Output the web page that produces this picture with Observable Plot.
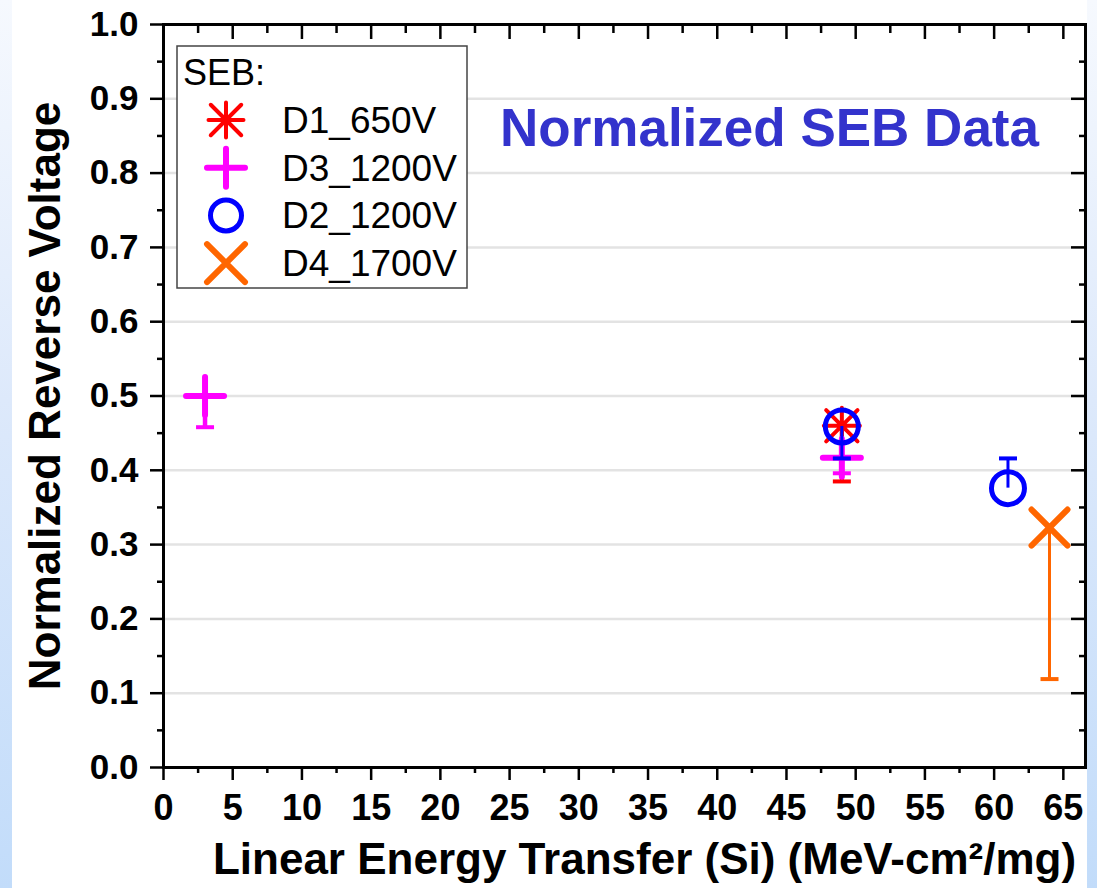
<!DOCTYPE html>
<html>
<head>
<meta charset="utf-8">
<script src="https://cdn.jsdelivr.net/npm/d3@7"></script>
<script src="https://cdn.jsdelivr.net/npm/@observablehq/plot@0.6"></script>
<style>
html,body{margin:0;padding:0;}
body{width:1097px;height:888px;overflow:hidden;background:linear-gradient(to bottom,#f6f9fe 0%,#dde9fb 45%,#c2dcfa 100%);font-family:"Liberation Sans",Arial,sans-serif;}
#wrap{position:relative;width:1097px;height:888px;}
#white{position:absolute;left:12px;top:0;width:1075px;height:888px;background:#fff;}
#chart{position:absolute;left:0;top:0;}
#overlay{position:absolute;left:0;top:0;pointer-events:none;}
#chart svg g[aria-label$="tick label"] text{font-weight:bold;}
</style>
</head>
<body>
<div id="wrap">
  <div id="white"></div>
  <div id="chart"></div>
  <svg id="overlay" width="1097" height="888"></svg>
</div>
<script>
// ---------- data ----------
const seriesNames = ["D1_650V", "D3_1200V", "D2_1200V", "D4_1700V"];
const seriesColors = ["#ff0000", "#ff00ff", "#0000ff", "#ff6600"];
const legendTitle = "SEB:";
const chartTitle = "Normalized SEB Data";
const xTitle = "Linear Energy Transfer (Si) (MeV-cm²/mg)";
const yTitle = "Normalized Reverse Voltage";

const pointSeries  = ["D1_650V", "D3_1200V", "D3_1200V", "D2_1200V", "D2_1200V", "D4_1700V"];
const pointLET     = [49, 3, 49, 49, 61, 64];
const pointVoltage = [0.46, 0.50, 0.417, 0.459, 0.376, 0.323];
const errLow       = [0.385, 0.458, 0.396, 0.416, 0.376, 0.119];
const errHigh      = [0.46, 0.50, 0.417, 0.459, 0.416, 0.323];

const xTicks = [0, 5, 10, 15, 20, 25, 30, 35, 40, 45, 50, 55, 60, 65];
const xMinorTicks = [2.5, 7.5, 12.5, 17.5, 22.5, 27.5, 32.5, 37.5, 42.5, 47.5, 52.5, 57.5, 62.5];
const yTicks = [0.0, 0.1, 0.2, 0.3, 0.4, 0.5, 0.6, 0.7, 0.8, 0.9, 1.0];
const yMinorTicks = [0.05, 0.15, 0.25, 0.35, 0.45, 0.55, 0.65, 0.75, 0.85, 0.95];
const xDomain = [0, 66.6];
const yDomain = [0, 1];

// ---------- symbols (style) ----------
const rad = size => Math.sqrt(size / Math.PI);
const symAsterisk = {draw(c, s){const r = rad(s), d = r * 0.87;
  c.moveTo(0,-r); c.lineTo(0,r); c.moveTo(-r,0); c.lineTo(r,0);
  c.moveTo(-d,-d); c.lineTo(d,d); c.moveTo(-d,d); c.lineTo(d,-d);}};
const symPlus = {draw(c, s){const r = rad(s); c.moveTo(-r,0); c.lineTo(r,0); c.moveTo(0,-r); c.lineTo(0,r);}};
const symCircle = {draw(c, s){const r = rad(s); c.moveTo(r,0); c.arc(0,0,r,0,2*Math.PI);}};
const symTimes = {draw(c, s){const r = rad(s); c.moveTo(-r,-r); c.lineTo(r,r); c.moveTo(-r,r); c.lineTo(r,-r);}};
const symCap = {draw(c, s){const r = rad(s); c.moveTo(-r,0); c.lineTo(r,0);}};
const seriesSymbols = [symAsterisk, symPlus, symCircle, symTimes];
const symbolR = [18, 19, 16.5, 18];
const symbolW = [4, 6, 5, 6];
const errW = [4, 4.5, 3, 3];

const points = pointSeries.map((s, i) => ({
  series: s, let: pointLET[i], v: pointVoltage[i], lo: errLow[i], hi: errHigh[i]
}));

const marks = [
  Plot.gridY(yTicks.slice(1, -1), {stroke: "#e3e3e3", strokeOpacity: 1, strokeWidth: 2.5}),
  Plot.axisX(xTicks, {anchor: "bottom", tickSize: 13, tickPadding: 14, fontSize: 36, fontWeight: "bold", strokeWidth: 2.5, label: null}),
  Plot.axisX(xMinorTicks, {anchor: "bottom", tickSize: 6, tickFormat: () => "", strokeWidth: 2.5, label: null}),
  Plot.axisX(xTicks, {anchor: "top", tickSize: -14, tickFormat: () => "", strokeWidth: 2.5, label: null}),
  Plot.axisX(xMinorTicks, {anchor: "top", tickSize: -8, tickFormat: () => "", strokeWidth: 2.5, label: null}),
  Plot.axisY(yTicks, {anchor: "left", tickSize: 13, tickPadding: 12, tickFormat: d => d.toFixed(1), fontSize: 35, fontWeight: "bold", strokeWidth: 2.5, label: null}),
  Plot.axisY(yMinorTicks, {anchor: "left", tickSize: 6, tickFormat: () => "", strokeWidth: 2.5, label: null}),
  Plot.axisY(yTicks, {anchor: "right", tickSize: -15, tickFormat: () => "", strokeWidth: 2.5, label: null}),
  Plot.axisY(yMinorTicks, {anchor: "right", tickSize: -7, tickFormat: () => "", strokeWidth: 2.5, label: null}),
  Plot.frame({stroke: "#000", strokeWidth: 3}),
  Plot.text([yTitle], {frameAnchor: "left", rotate: -90, dx: -118, textAnchor: "middle", fontSize: 44, fontWeight: "bold", fill: "#000"}),
  Plot.text([xTitle], {frameAnchor: "bottom", dy: 106, dx: 20, fontSize: 44, fontWeight: "bold", fill: "#000"})
];

seriesNames.forEach((name, k) => {
  const data = points.filter(d => d.series === name);
  const col = seriesColors[k];
  marks.push(
    Plot.ruleX(data, {x: "let", y1: "lo", y2: "hi", stroke: col, strokeWidth: errW[k]}),
    Plot.dot(data.filter(d => d.lo < d.v), {x: "let", y: "lo", symbol: symCap, r: 9, stroke: col, fill: "none", strokeWidth: 4}),
    Plot.dot(data.filter(d => d.hi > d.v), {x: "let", y: "hi", symbol: symCap, r: 9, stroke: col, fill: "none", strokeWidth: 4}),
    Plot.dot(data, {x: "let", y: "v", symbol: seriesSymbols[k], r: symbolR[k], stroke: col, fill: "none", strokeWidth: symbolW[k], strokeLinecap: "round"})
  );
});

const chart = Plot.plot({
  width: 1097, height: 888,
  marginLeft: 163, marginRight: 12, marginTop: 24, marginBottom: 121,
  x: {domain: xDomain, label: null},
  y: {domain: yDomain, label: null},
  style: {fontFamily: "'Liberation Sans', Arial, sans-serif", background: "transparent", color: "#000"},
  marks
});
document.getElementById("chart").appendChild(chart);

// ---------- overlay: legend + title ----------
const ov = d3.select("#overlay");
ov.append("text").attr("x", 500).attr("y", 146)
  .attr("font-family", "'Liberation Sans', Arial, sans-serif").attr("font-weight", "bold")
  .attr("font-size", 53).attr("fill", "#3333cc").text(chartTitle);

const lg = ov.append("g");
lg.append("rect").attr("x", 177).attr("y", 46).attr("width", 290).attr("height", 242)
  .attr("fill", "#fff").attr("stroke", "#444").attr("stroke-width", 1.5);
lg.append("text").attr("x", 183).attr("y", 85)
  .attr("font-family", "'Liberation Sans', Arial, sans-serif").attr("font-size", 36).text(legendTitle);
const legendR = [17.5, 19, 15.5, 19];
seriesNames.forEach((name, k) => {
  const cy = 120 + k * 47.7;
  lg.append("path")
    .attr("transform", `translate(226,${cy})`)
    .attr("d", d3.symbol(seriesSymbols[k], Math.PI * legendR[k] * legendR[k])())
    .attr("fill", "none").attr("stroke", seriesColors[k])
    .attr("stroke-width", symbolW[k]).attr("stroke-linecap", "round");
  lg.append("text").attr("x", 282).attr("y", cy + 13)
    .attr("font-family", "'Liberation Sans', Arial, sans-serif").attr("font-size", 37).text(name);
});
</script>
</body>
</html>
